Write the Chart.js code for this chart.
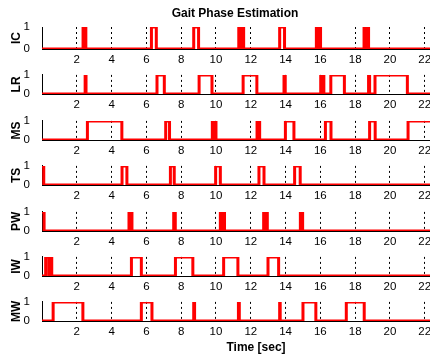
<!DOCTYPE html>
<html>
<head>
<meta charset="utf-8">
<script src="https://cdn.jsdelivr.net/npm/chart.js@4/dist/chart.umd.min.js"></script>
<style>
  body { margin: 0; overflow: hidden; background: #fff; }
  #wrap { position: relative; width: 430px; height: 356px; overflow: hidden; }
  #wrap canvas { position: absolute; left: 0; }
</style>
</head>
<body>
<div id="wrap"></div>
<script>
// each signal starts at its start level and toggles 0/1 at every time (sec) listed
var phaseNames = ['IC', 'LR', 'MS', 'TS', 'PW', 'IW', 'MW'];
var startLevels = [0, 0, 0, 1, 1, 0, 0];
var icEdges = [2.36, 2.52, 6.29, 6.57, 8.72, 9.0, 11.31, 11.44, 11.46, 11.59,
               13.66, 13.94, 15.77, 15.88, 15.9, 16.01, 18.51, 18.63, 18.65, 18.77];
var lrEdges = [2.48, 2.53, 6.61, 7.03, 9.03, 9.77, 11.56, 12.35, 13.91, 13.98,
               16.02, 16.1, 16.12, 16.2, 16.6, 17.38, 18.77, 18.83, 19.14, 21.0];
var msEdges = [2.61, 4.59, 7.11, 7.33, 9.79, 9.89, 9.91, 10.0, 12.36, 12.51,
               13.99, 14.48, 16.29, 16.61, 18.83, 19.15, 21.04];
var tsEdges = [0.1, 4.6, 4.88, 7.38, 7.6, 9.98, 10.25, 12.47, 12.76, 14.52, 14.84];
var pwEdges = [0.12, 5.0, 5.17, 7.57, 7.66, 10.25, 10.36, 10.38, 10.49,
               12.74, 12.84, 12.86, 12.95, 14.85, 14.98];
var iwEdges = [0.21, 0.39, 0.41, 0.56, 5.14, 5.71, 7.67, 8.67, 10.44, 11.26, 12.99, 13.6];
var mwEdges = [0.64, 2.35, 5.71, 6.32, 8.72, 8.77, 11.29, 11.34, 13.66, 13.69,
               15.0, 15.74, 17.49, 18.52];
var allEdges = [icEdges, lrEdges, msEdges, tsEdges, pwEdges, iwEdges, mwEdges];
var xTicks = [2, 4, 6, 8, 10, 12, 14, 16, 18, 20, 22, 24];
var yTicks = [0, 1];
var xMax = 24.6;

Chart.defaults.font.family = "'Liberation Sans', Arial, sans-serif";
Chart.defaults.color = '#000';

var plotTops = [27, 72, 118, 163, 209, 254, 299];

function toSteps(edges, start) {
  var v = start, pts = [{x: 0, y: v}];
  edges.forEach(function (t) {
    v = 1 - v;
    pts.push({x: t, y: v});
  });
  pts.push({x: xMax, y: v});
  return pts;
}

var wrap = document.getElementById('wrap');
phaseNames.forEach(function (name, i) {
  var isFirst = i === 0, isLast = i === phaseNames.length - 1;
  var canvas = document.createElement('canvas');
  var top = isFirst ? 0 : plotTops[i] - 8;
  var xAxisH = isLast ? 356 - (plotTops[i] + 22) : 19;
  canvas.width = 470;
  canvas.height = (plotTops[i] - top) + 22 + xAxisH;
  canvas.style.top = top + 'px';
  wrap.appendChild(canvas);

  new Chart(canvas, {
    type: 'line',
    data: {
      datasets: [{
        data: toSteps(allEdges[i], startLevels[i]),
        stepped: true,
        borderColor: '#ff0000',
        borderWidth: 3,
        pointRadius: 0,
        fill: false
      }]
    },
    options: {
      responsive: false,
      animation: false,
      layout: {padding: {top: isFirst ? 0 : 8, left: 0, right: 0, bottom: 0}},
      plugins: {
        legend: {display: false},
        tooltip: {enabled: false},
        title: {
          display: isFirst,
          text: 'Gait Phase Estimation',
          font: {size: 12, weight: 'bold'},
          padding: {top: 6, bottom: 6.6}
        }
      },
      scales: {
        x: {
          type: 'linear',
          min: 0,
          max: xMax,
          afterBuildTicks: function (s) { s.ticks = xTicks.map(function (v) { return {value: v}; }); },
          afterFit: function (s) { s.height = xAxisH; },
          grid: {color: '#000', lineWidth: 1, drawTicks: false},
          border: {display: true, color: '#000', width: 1, dash: [2, 3]},
          ticks: {padding: 4, maxRotation: 0, autoSkip: false, font: {size: 11.5}},
          title: {
            display: isLast,
            text: 'Time [sec]',
            font: {size: 12, weight: 'bold'},
            padding: {top: 0, bottom: 1}
          }
        },
        y: {
          type: 'linear',
          min: 0,
          max: 1,
          afterBuildTicks: function (s) { s.ticks = yTicks.map(function (v) { return {value: v}; }); },
          afterFit: function (s) { s.width = 42; },
          grid: {display: false},
          border: {display: true, color: '#000', width: 1},
          ticks: {padding: 4, font: {size: 11.5}},
          title: {
            display: true,
            text: name,
            font: {size: 12, weight: 'bold'},
            padding: {top: 9, bottom: 0}
          }
        }
      }
    }
  });
});
</script>
</body>
</html>
